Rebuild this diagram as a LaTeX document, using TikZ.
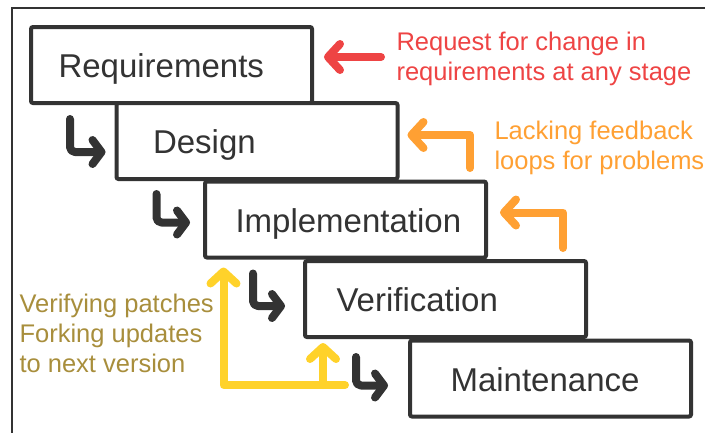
\documentclass[tikz,border=0pt]{standalone}
\usepackage{fontspec}
\setmainfont{Liberation Sans}
\usetikzlibrary{arrows.meta,calc}
\definecolor{darkline}{HTML}{333333}
\definecolor{reqred}{HTML}{EE4444}
\definecolor{looporange}{HTML}{FFA033}
\definecolor{patchyellow}{HTML}{FFD22A}
\definecolor{patchtext}{HTML}{A88E3C}
\tikzset{
  stage/.style={draw=darkline,line width=4pt,rounded corners=2pt,fill=white,
    minimum width=281pt,minimum height=76pt,inner sep=0pt},
  stagetext/.style={anchor=base west,text=darkline,font=\fontsize{33}{36}\selectfont},
  note/.style={anchor=west,align=left,font=\fontsize{25.5}{30}\selectfont},
  fatarrow/.style={line width=8pt,line cap=round,line join=round,
    -{Straight Barb[round,length=12pt,width=26pt]}},
  hookarrow/.style={fatarrow,darkline,rounded corners=5pt,
    -{Straight Barb[round,length=9pt,width=24pt]}},
}
\begin{document}
\begin{tikzpicture}[x=1pt,y=-1pt]
  \useasboundingbox (0,0) rectangle (705,432);
  \draw[darkline,line width=2.5pt] (12,440) -- (12,8) -- (712,8);
  % the five stages
  \node[stage] (req) at (171.5,65) {};
  \node[stage] (des) at (257,141) {};
  \node[stage] (imp) at (345.5,219.5) {};
  \node[stage] (ver) at (445.5,299) {};
  \node[stage] (mai) at (550.5,378.5) {};
  \node[stagetext] (reqtext) at ([xshift=26pt,yshift=-12.5pt]req.west) {Requirements};
  \node[stagetext] (destext) at ([xshift=35pt,yshift=-12.5pt]des.west) {Design};
  \node[stagetext] (imptext) at ([xshift=29pt,yshift=-12.5pt]imp.west) {Implementation};
  \node[stagetext] (vertext) at ([xshift=30pt,yshift=-12.5pt]ver.west) {Verification};
  \node[stagetext] (maitext) at ([xshift=39pt,yshift=-12.5pt]mai.west) {Maintenance};
  % going down the waterfall
  \draw[hookarrow] ($(req.south west)+(41,14)$) |- ([xshift=-9pt,yshift=-11pt]des.west);
  \draw[hookarrow] ($(des.south west)+(42,13)$) |- ([xshift=-13pt,yshift=-3pt]imp.west);
  \draw[hookarrow] ($(imp.south west)+(50,14)$) |- ([xshift=-18pt,yshift=-7pt]ver.west);
  \draw[hookarrow] ($(ver.south west)+(53,18)$) |- ([xshift=-20pt,yshift=-7pt]mai.west);
  % notes
  \node[note,text=reqred] (change) at (393,59) {Request for change in\\requirements at any stage};
  \node[note,text=looporange] (lacking) at (491,148) {Lacking feedback\\loops for problems};
  \node[note,text=patchtext] (patches) at (16,333) {Verifying patches\\Forking updates\\to next version};
  \coordinate (redstart) at (381,57);
  \coordinate (loopone) at (470,168);
  \coordinate (looptwo) at (563,248);
  \coordinate (patchend) at (345,385);
  \draw[fatarrow,reqred] (redstart) -- ([xshift=10pt,yshift=8pt]req.east);
  \draw[fatarrow,looporange] (loopone) |- ([xshift=8pt,yshift=6pt]des.east);
  \draw[fatarrow,looporange] (looptwo) |- ([xshift=12pt,yshift=7pt]imp.east);
  \draw[fatarrow,patchyellow] (patchend) -| ([xshift=-122pt,yshift=-8pt]imp.south);
  \draw[fatarrow,patchyellow] (patchend -| 323,0) -- ([yshift=-4pt]ver.south west -| 323,0);
\end{tikzpicture}
\end{document}
